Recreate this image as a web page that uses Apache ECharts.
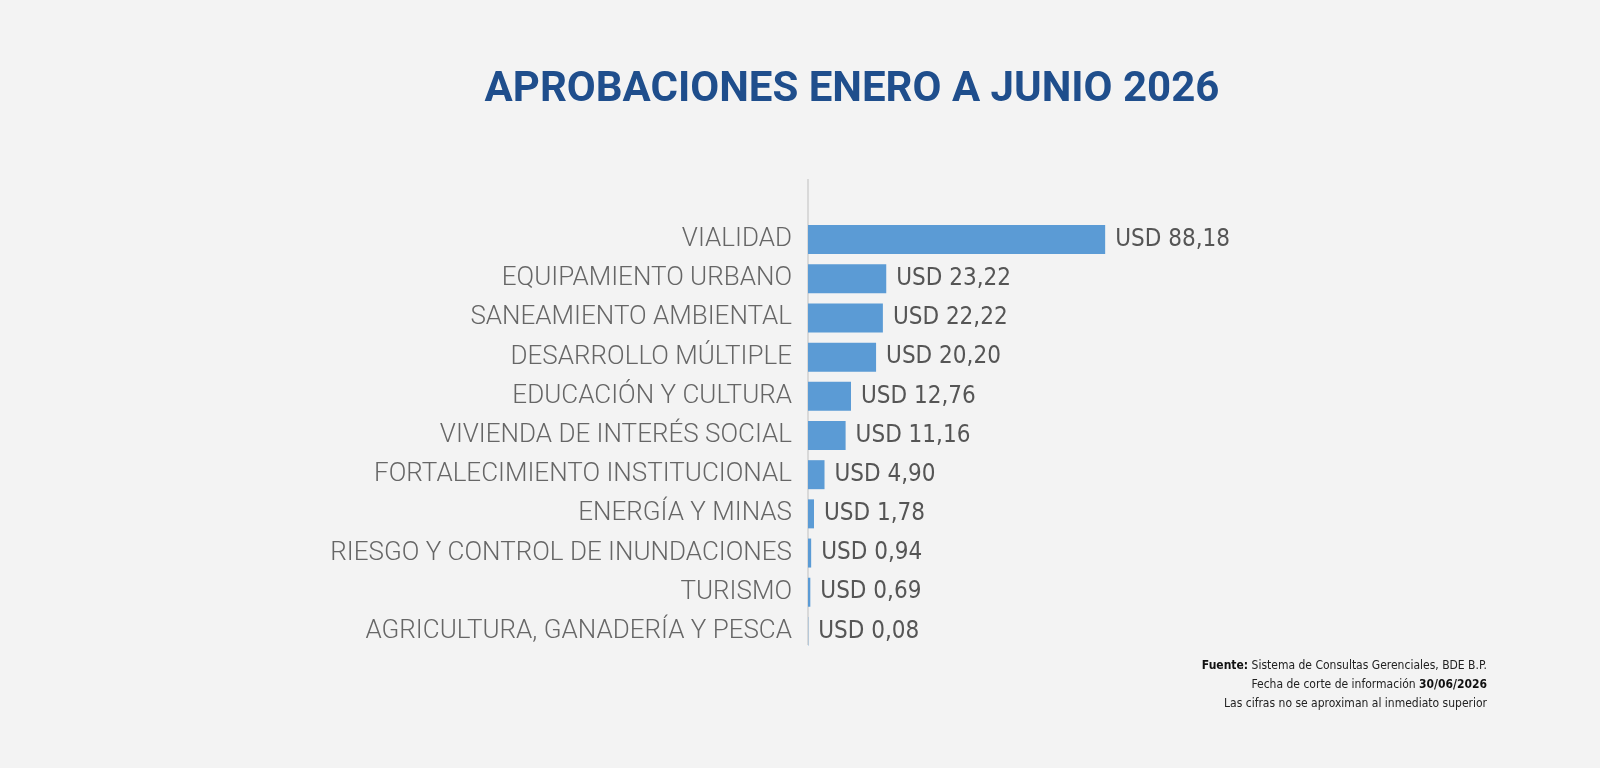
<!DOCTYPE html>
<html><head><meta charset="utf-8">
<script src="https://cdn.jsdelivr.net/npm/echarts@6/dist/echarts.min.js"></script>
<style>html,body{margin:0;background:#f3f3f3}#main{width:1600px;height:768px}</style>
</head><body><div id="main"></div>
<script>
var categories = ['VIALIDAD','EQUIPAMIENTO URBANO','SANEAMIENTO AMBIENTAL','DESARROLLO MÚLTIPLE','EDUCACIÓN Y CULTURA','VIVIENDA DE INTERÉS SOCIAL','FORTALECIMIENTO INSTITUCIONAL','ENERGÍA Y MINAS','RIESGO Y CONTROL DE INUNDACIONES','TURISMO','AGRICULTURA, GANADERÍA Y PESCA'];
var values = [88.18, 23.22, 22.22, 20.20, 12.76, 11.16, 4.90, 1.78, 0.94, 0.69, 0.08];

var chart = echarts.init(document.getElementById('main'));
chart.setOption({
    backgroundColor: '#f3f3f3',
    title: {
        text: 'APROBACIONES ENERO A JUNIO 2026',
        left: 847, top: 64, textAlign: 'center',
        textStyle: {color: '#1f4e8c', fontSize: 42, fontWeight: 'bold', fontFamily: 'Roboto'}
    },
    grid: {left: 808, right: 455, top: 220, bottom: 117},
    xAxis: {type: 'value', min: 0, max: 100, show: false},
    yAxis: {
        type: 'category', inverse: true, data: categories,
        axisLine: {show: false}, axisTick: {show: false},
        axisLabel: {color: '#666', fontSize: 26, fontFamily: 'Roboto', fontWeight: 300, margin: 16}
    },
    series: [{
        type: 'bar', data: values, barWidth: 29,
        itemStyle: {color: '#5b9bd5'},
        label: {
            show: true, position: 'right', distance: 10,
            color: '#555', fontSize: 24, fontFamily: 'DejaVu Sans Condensed',
            formatter: function(p){ return 'USD ' + p.value.toFixed(2).replace('.', ','); }
        }
    }],
    graphic: [
        {type: 'line', shape: {x1: 808, y1: 179, x2: 808, y2: 645}, style: {stroke: '#d9d9d9', lineWidth: 2}},
        {type: 'text', x: 1487, y: 656, style: {
            text: '{b|Fuente:} Sistema de Consultas Gerenciales, BDE B.P.\nFecha de corte de información {b|30/06/2026}\nLas cifras no se aproximan al inmediato superior',
            align: 'right', textAlign: 'right', fill: '#222', fontSize: 12, lineHeight: 19, fontFamily: 'DejaVu Sans Condensed',
            rich: {b: {fontWeight: 'bold', fontSize: 12, fill: '#111', fontFamily: 'DejaVu Sans Condensed'}}
        }}
    ]
});
</script></body></html>
